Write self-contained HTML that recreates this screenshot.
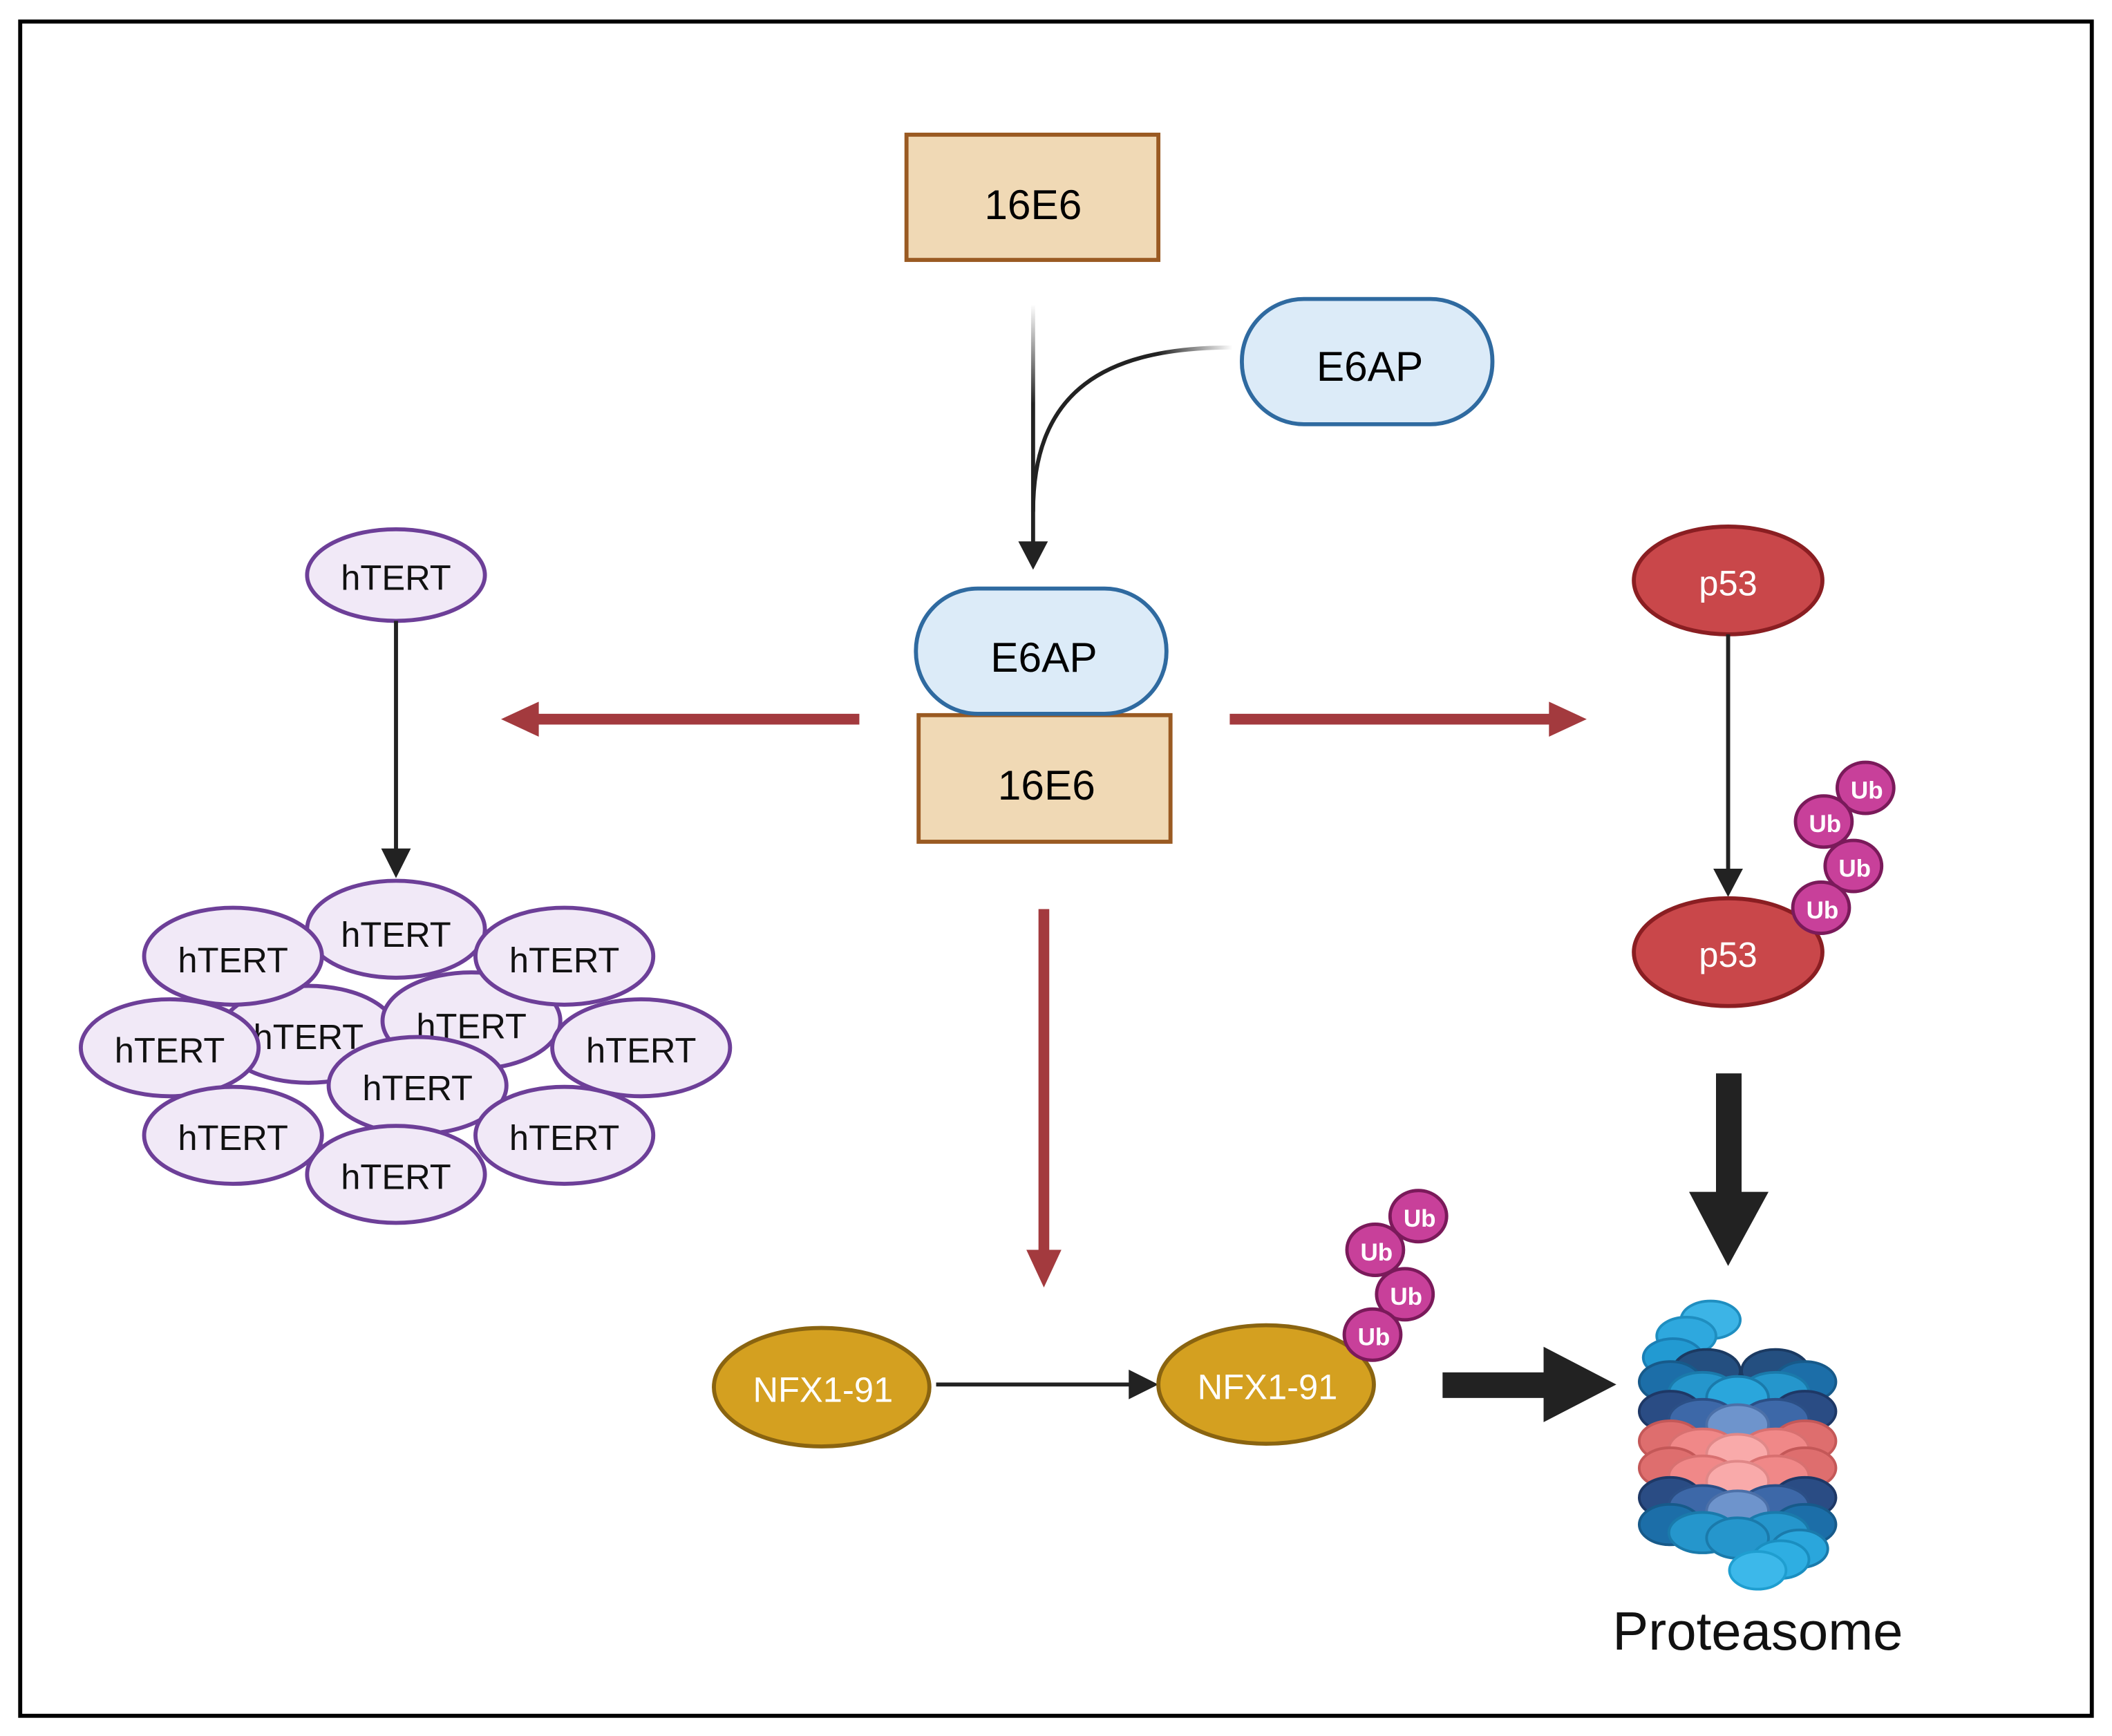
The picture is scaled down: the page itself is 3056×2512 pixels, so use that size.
<!DOCTYPE html>
<html><head><meta charset="utf-8"><style>
html,body{margin:0;padding:0;background:#fff}
svg{display:block}
text{font-family:"Liberation Sans",sans-serif;text-anchor:middle;dominant-baseline:central}
</style></head><body>
<svg width="3056" height="2512" viewBox="0 0 1568 1289" preserveAspectRatio="none" xmlns="http://www.w3.org/2000/svg">
<defs>
<linearGradient id="gv" gradientUnits="userSpaceOnUse" x1="767" y1="226" x2="767" y2="300"><stop offset="0" stop-color="#222" stop-opacity="0"/><stop offset="1" stop-color="#222"/></linearGradient>
<linearGradient id="gh" gradientUnits="userSpaceOnUse" x1="915" y1="0" x2="860" y2="0"><stop offset="0" stop-color="#222" stop-opacity="0"/><stop offset="1" stop-color="#222"/></linearGradient>
</defs>
<rect width="1568" height="1289" fill="#fff"/>
<rect x="15" y="16" width="1538" height="1258" fill="none" stroke="#000" stroke-width="3"/>

<!-- top -->
<rect x="673" y="100" width="187" height="93" fill="#f0d9b5" stroke="#9a5a22" stroke-width="3"/>
<text x="767" y="152" font-size="31">16E6</text>
<rect x="922" y="222" width="186" height="93" rx="46" fill="#dcebf8" stroke="#2f6aa0" stroke-width="3"/>
<text x="1017" y="272" font-size="31">E6AP</text>
<line x1="767" y1="226" x2="767" y2="405" stroke="url(#gv)" stroke-width="3"/>
<path d="M915 258 C 820 258, 767 290, 767 380" fill="none" stroke="url(#gh)" stroke-width="3"/>
<polygon points="756,402 778,402 767,423" fill="#222"/>

<!-- complex -->
<rect x="682" y="531" width="187" height="94" fill="#f0d9b5" stroke="#9a5a22" stroke-width="3"/>
<text x="777" y="583" font-size="31">16E6</text>
<rect x="680" y="437" width="186" height="93" rx="46" fill="#dcebf8" stroke="#2f6aa0" stroke-width="3"/>
<text x="775" y="488" font-size="31">E6AP</text>

<!-- red arrows -->
<g fill="#a33a3e">
<rect x="395" y="530" width="243" height="8"/>
<polygon points="372,534 400,521 400,547"/>
<rect x="913" y="530" width="243" height="8"/>
<polygon points="1178,534 1150,521 1150,547"/>
<rect x="771" y="675" width="8" height="258"/>
<polygon points="775,956 762,928 788,928"/>
</g>

<!-- hTERT -->
<g fill="#f1e9f7" stroke="#6d3f98" stroke-width="3">
<ellipse cx="294" cy="427" rx="66" ry="34"/>
<ellipse cx="229" cy="768" rx="66" ry="36"/>
<ellipse cx="350" cy="758" rx="66" ry="36"/>
<ellipse cx="294" cy="690" rx="66" ry="36"/>
<ellipse cx="173" cy="710" rx="66" ry="36"/>
<ellipse cx="419" cy="710" rx="66" ry="36"/>
</g>
<g font-size="26" fill="#111">
<text x="294" y="429">hTERT</text>
<text x="229" y="770">hTERT</text>
<text x="350" y="762">hTERT</text>
<text x="294" y="694">hTERT</text>
<text x="173" y="713">hTERT</text>
<text x="419" y="713">hTERT</text>
</g>
<g fill="#f1e9f7" stroke="#6d3f98" stroke-width="3">
<ellipse cx="126" cy="778" rx="66" ry="36"/>
<ellipse cx="476" cy="778" rx="66" ry="36"/>
<ellipse cx="310" cy="806" rx="66" ry="36"/>
<ellipse cx="173" cy="843" rx="66" ry="36"/>
<ellipse cx="419" cy="843" rx="66" ry="36"/>
<ellipse cx="294" cy="872" rx="66" ry="36"/>
</g>
<g font-size="26" fill="#111">
<text x="126" y="780">hTERT</text>
<text x="476" y="780">hTERT</text>
<text x="310" y="808">hTERT</text>
<text x="173" y="845">hTERT</text>
<text x="419" y="845">hTERT</text>
<text x="294" y="874">hTERT</text>
</g>
<line x1="294" y1="461" x2="294" y2="632" stroke="#222" stroke-width="3"/>
<polygon points="283,630 305,630 294,652" fill="#222"/>

<!-- p53 -->
<ellipse cx="1283" cy="431" rx="70" ry="40" fill="#c9474a" stroke="#8a1e22" stroke-width="3"/>
<text x="1283" y="433" font-size="26" fill="#fff">p53</text>
<line x1="1283" y1="471" x2="1283" y2="646" stroke="#222" stroke-width="3"/>
<polygon points="1272,645 1294,645 1283,666" fill="#222"/>
<ellipse cx="1283" cy="707" rx="70" ry="40" fill="#c9474a" stroke="#8a1e22" stroke-width="3"/>
<text x="1283" y="709" font-size="26" fill="#fff">p53</text>

<g fill="#c8409a" stroke="#7a1a5a" stroke-width="2.5">
<ellipse cx="1385" cy="585" rx="21" ry="19"/>
<ellipse cx="1354" cy="610" rx="21" ry="19"/>
<ellipse cx="1376" cy="643" rx="21" ry="19"/>
<ellipse cx="1352" cy="674" rx="21" ry="19"/>
<ellipse cx="1053" cy="903" rx="21" ry="19"/>
<ellipse cx="1021" cy="928" rx="21" ry="19"/>
<ellipse cx="1043" cy="961" rx="21" ry="19"/>
</g>
<g fill="#fff" font-size="18" font-weight="bold">
<text x="1386" y="587">Ub</text><text x="1355" y="612">Ub</text><text x="1377" y="645">Ub</text><text x="1353" y="676">Ub</text>
<text x="1054" y="905">Ub</text><text x="1022" y="930">Ub</text><text x="1044" y="963">Ub</text>
</g>

<!-- big arrows -->
<rect x="1274" y="797" width="19" height="90" fill="#222"/>
<polygon points="1254,885 1313,885 1283,940" fill="#222"/>
<rect x="1071" y="1019" width="78" height="19" fill="#222"/>
<polygon points="1146,1000 1146,1056 1200,1028" fill="#222"/>

<!-- NFX -->
<ellipse cx="610" cy="1030" rx="80" ry="44" fill="#d4a020" stroke="#8a6410" stroke-width="3"/>
<text x="611" y="1032" font-size="26" fill="#fff">NFX1-91</text>
<line x1="695" y1="1028" x2="840" y2="1028" stroke="#222" stroke-width="3"/>
<polygon points="838,1017 838,1039 860,1028" fill="#222"/>
<ellipse cx="940" cy="1028" rx="80" ry="44" fill="#d4a020" stroke="#8a6410" stroke-width="3"/>
<text x="941" y="1030" font-size="26" fill="#fff">NFX1-91</text>
<ellipse cx="1019" cy="991" rx="21" ry="19" fill="#c8409a" stroke="#7a1a5a" stroke-width="2.5"/>
<text x="1020" y="993" fill="#fff" font-size="18" font-weight="bold">Ub</text>

<!-- proteasome -->
<g stroke-width="2">
<ellipse cx="1270" cy="980" rx="22" ry="14" fill="#3cb4e6" stroke="#1f8ec0"/>
<ellipse cx="1252" cy="992" rx="22" ry="14" fill="#2ea8de" stroke="#1f8ec0"/>
<ellipse cx="1242" cy="1008" rx="22" ry="14" fill="#229ad2" stroke="#1a7fb5"/>
<ellipse cx="1267" cy="1018" rx="25" ry="16" fill="#244f80" stroke="#1b3a62"/>
<ellipse cx="1318" cy="1018" rx="25" ry="16" fill="#244f80" stroke="#1b3a62"/>
<ellipse cx="1240" cy="1026" rx="23" ry="15" fill="#1c6ea8" stroke="#175a8a"/>
<ellipse cx="1340" cy="1026" rx="23" ry="15" fill="#1c6ea8" stroke="#175a8a"/>
<ellipse cx="1264" cy="1034" rx="25" ry="15" fill="#2596cc" stroke="#1a7aab"/>
<ellipse cx="1318" cy="1034" rx="25" ry="15" fill="#2596cc" stroke="#1a7aab"/>
<ellipse cx="1290" cy="1038" rx="23" ry="16" fill="#2aa6dc" stroke="#1a7aab"/>

<ellipse cx="1240" cy="1048" rx="23" ry="15" fill="#2a4c84" stroke="#1e3866"/>
<ellipse cx="1340" cy="1048" rx="23" ry="15" fill="#2a4c84" stroke="#1e3866"/>
<ellipse cx="1264" cy="1054" rx="25" ry="15" fill="#3d68a8" stroke="#2b4f86"/>
<ellipse cx="1318" cy="1054" rx="25" ry="15" fill="#3d68a8" stroke="#2b4f86"/>
<ellipse cx="1290" cy="1058" rx="23" ry="15" fill="#6e94cc" stroke="#4c70a8"/>

<ellipse cx="1240" cy="1070" rx="23" ry="15" fill="#de6e6e" stroke="#c45858"/>
<ellipse cx="1340" cy="1070" rx="23" ry="15" fill="#de6e6e" stroke="#c45858"/>
<ellipse cx="1264" cy="1076" rx="25" ry="15" fill="#f08888" stroke="#d87070"/>
<ellipse cx="1318" cy="1076" rx="25" ry="15" fill="#f08888" stroke="#d87070"/>
<ellipse cx="1290" cy="1080" rx="23" ry="15" fill="#f9aaaa" stroke="#e08888"/>

<ellipse cx="1240" cy="1090" rx="23" ry="15" fill="#de6e6e" stroke="#c45858"/>
<ellipse cx="1340" cy="1090" rx="23" ry="15" fill="#de6e6e" stroke="#c45858"/>
<ellipse cx="1264" cy="1096" rx="25" ry="15" fill="#f08888" stroke="#d87070"/>
<ellipse cx="1318" cy="1096" rx="25" ry="15" fill="#f08888" stroke="#d87070"/>
<ellipse cx="1290" cy="1100" rx="23" ry="15" fill="#f9aaaa" stroke="#e08888"/>

<ellipse cx="1240" cy="1112" rx="23" ry="15" fill="#2a4c84" stroke="#1e3866"/>
<ellipse cx="1340" cy="1112" rx="23" ry="15" fill="#2a4c84" stroke="#1e3866"/>
<ellipse cx="1264" cy="1118" rx="25" ry="15" fill="#3d68a8" stroke="#2b4f86"/>
<ellipse cx="1318" cy="1118" rx="25" ry="15" fill="#3d68a8" stroke="#2b4f86"/>
<ellipse cx="1290" cy="1122" rx="23" ry="15" fill="#6e94cc" stroke="#4c70a8"/>

<ellipse cx="1240" cy="1132" rx="23" ry="15" fill="#1c6ea8" stroke="#175a8a"/>
<ellipse cx="1340" cy="1132" rx="23" ry="15" fill="#1c6ea8" stroke="#175a8a"/>
<ellipse cx="1264" cy="1138" rx="25" ry="15" fill="#2596cc" stroke="#1a7aab"/>
<ellipse cx="1318" cy="1138" rx="25" ry="15" fill="#2596cc" stroke="#1a7aab"/>
<ellipse cx="1290" cy="1142" rx="23" ry="15" fill="#2596cc" stroke="#1a7aab"/>
<ellipse cx="1336" cy="1150" rx="21" ry="14" fill="#2aa6dc" stroke="#1a7aab"/>
<ellipse cx="1322" cy="1158" rx="21" ry="14" fill="#2eaee2" stroke="#1a8ec0"/>
<ellipse cx="1305" cy="1166" rx="21" ry="14" fill="#3cb8ea" stroke="#1f9ed0"/>
</g>
<text x="1305" y="1211" font-size="40" fill="#111">Proteasome</text>
</svg>
</body></html>
